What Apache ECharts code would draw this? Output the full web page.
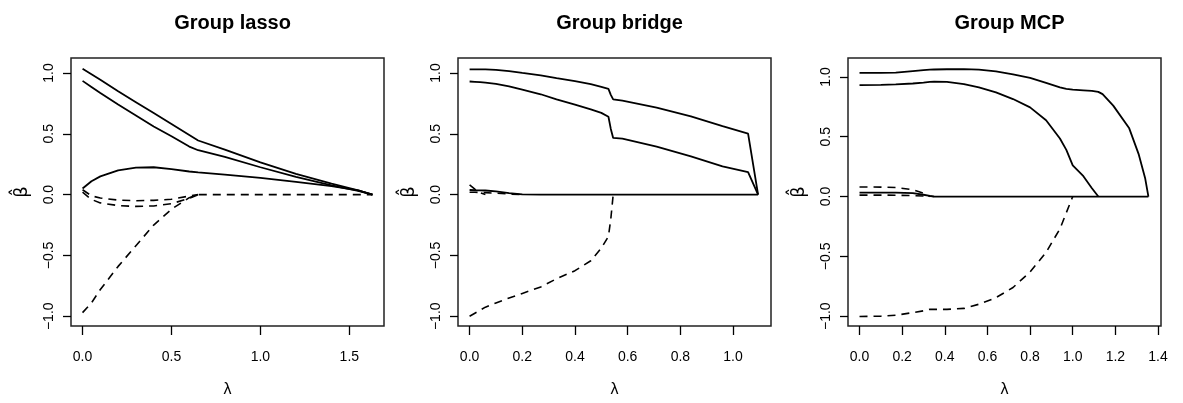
<!DOCTYPE html>
<html>
<head>
<meta charset="utf-8">
<script src="https://cdn.jsdelivr.net/npm/echarts@6/dist/echarts.min.js"></script>
<style>
  html, body { margin: 0; padding: 0; background: #fff; }
  #main { width: 1183px; height: 403px; }
</style>
</head>
<body>
<div id="main"></div>
<script>
// Group lasso: lambda grid and coefficient paths (b1-b3 solid, b4-b6 dashed)
const lassoLam = [0, 0.05, 0.1, 0.2, 0.3, 0.4, 0.5, 0.6, 0.65, 0.8, 1.0, 1.2, 1.4, 1.55, 1.63];
const lassoB1 = [1.035, 0.99, 0.945, 0.85, 0.76, 0.67, 0.58, 0.49, 0.445, 0.37, 0.265, 0.17, 0.09, 0.035, 0];
const lassoB2 = [0.935, 0.885, 0.835, 0.74, 0.65, 0.56, 0.48, 0.395, 0.365, 0.31, 0.225, 0.145, 0.075, 0.03, 0];
const lassoB3 = [0.05, 0.11, 0.15, 0.2, 0.222, 0.225, 0.21, 0.19, 0.183, 0.165, 0.138, 0.105, 0.07, 0.035, 0];
const lassoB4 = [0.04, -0.01, -0.028, -0.045, -0.05, -0.047, -0.038, -0.012, 0];
const lassoB5 = [0.02, -0.04, -0.068, -0.09, -0.097, -0.093, -0.075, -0.03, 0];
const lassoB6 = [-0.97, -0.89, -0.78, -0.59, -0.42, -0.25, -0.12, -0.025, 0, 0, 0, 0, 0, 0, 0];

// Group bridge
const bridgeLam = [0, 0.02, 0.04, 0.06, 0.1, 0.15, 0.2, 0.27, 0.33, 0.4, 0.46, 0.5, 0.527, 0.536, 0.545, 0.58, 0.71, 0.84, 0.96, 1.057, 1.095];
const bridgeB1 = [1.03, 1.03, 1.03, 1.03, 1.025, 1.015, 1.0, 0.98, 0.957, 0.932, 0.908, 0.885, 0.869, 0.82, 0.783, 0.772, 0.716, 0.643, 0.563, 0.501, 0];
const bridgeB2 = [0.93, 0.927, 0.924, 0.92, 0.91, 0.89, 0.863, 0.825, 0.783, 0.74, 0.7, 0.672, 0.64, 0.54, 0.466, 0.46, 0.394, 0.314, 0.233, 0.185, 0];
const bridgeB3 = [0.038, 0.036, 0.035, 0.034, 0.027, 0.013, 0.002, 0, 0, 0, 0, 0, 0, 0, 0, 0, 0, 0, 0, 0, 0];
const bridgeB4 = [0.08, 0.045, 0.015, 0];
const bridgeB5 = [0.02, 0.019, 0.018, 0.016, 0.012, 0.005, 0];
const bridgeB6 = [-1.0, -0.975, -0.95, -0.925, -0.89, -0.85, -0.812, -0.759, -0.692, -0.625, -0.544, -0.44, -0.343, -0.2, 0];

// Group MCP
const mcpLam = [0, 0.1, 0.17, 0.25, 0.3, 0.33, 0.35, 0.41, 0.49, 0.56, 0.64, 0.72, 0.8, 0.875, 0.94, 0.97, 1.0, 1.05, 1.09, 1.12, 1.14, 1.19, 1.265, 1.31, 1.34, 1.355];
const mcpB1 = [1.033, 1.033, 1.035, 1.048, 1.056, 1.06, 1.062, 1.064, 1.065, 1.06, 1.046, 1.022, 0.992, 0.95, 0.912, 0.9, 0.893, 0.888, 0.884, 0.875, 0.856, 0.76, 0.57, 0.35, 0.15, 0];
const mcpB2 = [0.932, 0.933, 0.937, 0.945, 0.953, 0.958, 0.96, 0.958, 0.94, 0.912, 0.87, 0.815, 0.745, 0.638, 0.485, 0.39, 0.26, 0.17, 0.07, 0];
const mcpB3 = [0.033, 0.033, 0.033, 0.028, 0.015, 0.005, 0, 0, 0, 0, 0, 0, 0, 0, 0, 0, 0, 0, 0, 0, 0, 0, 0, 0, 0, 0];
const mcpB4 = [0.08, 0.079, 0.076, 0.058, 0.028, 0];
const mcpB5 = [0.012, 0.012, 0.011, 0.008, 0.004, 0.002, 0];
const mcpB6 = [-1.003, -1.0, -0.992, -0.97, -0.955, -0.943, -0.943, -0.943, -0.935, -0.9, -0.845, -0.76, -0.63, -0.466, -0.27, -0.135, 0];

const yTicks = [-1, -0.5, 0, 0.5, 1];

const panels = [
  { title: 'Group lasso', lam: lassoLam, solid: [lassoB1, lassoB2, lassoB3], dashed: [lassoB4, lassoB5, lassoB6],
    left: 71, xMin: -0.065, xMax: 1.695, xTicks: [0, 0.5, 1, 1.5], yMin: -1.08, yMax: 1.123 },
  { title: 'Group bridge', lam: bridgeLam, solid: [bridgeB1, bridgeB2, bridgeB3], dashed: [bridgeB4, bridgeB5, bridgeB6],
    left: 458, xMin: -0.044, xMax: 1.144, xTicks: [0, 0.2, 0.4, 0.6, 0.8, 1.0], yMin: -1.08, yMax: 1.123 },
  { title: 'Group MCP', lam: mcpLam, solid: [mcpB1, mcpB2, mcpB3], dashed: [mcpB4, mcpB5, mcpB6],
    left: 848, xMin: -0.054, xMax: 1.414, xTicks: [0, 0.2, 0.4, 0.6, 0.8, 1.0, 1.2, 1.4], yMin: -1.082, yMax: 1.158 }
];

const W = 313, H = 274, TOP = 58;
const fmt = v => v.toFixed(1).replace('-', '\u2212');

let option = {
  animation: false,
  backgroundColor: '#fff',
  title: [], grid: [], xAxis: [], yAxis: [], series: []
};

panels.forEach((p, k) => {
  option.title.push({
    text: p.title, left: p.left + W / 2, top: 8, textAlign: 'center',
    textStyle: { fontFamily: 'Liberation Sans', fontWeight: 'bold', fontSize: 20, color: '#000' }
  });
  option.grid.push({
    left: p.left, top: TOP, width: W, height: H,
    show: true, borderColor: '#222', borderWidth: 1.5, backgroundColor: 'transparent'
  });
  option.xAxis.push({
    type: 'value', gridIndex: k, min: p.xMin, max: p.xMax,
    name: 'λ', nameLocation: 'middle', nameGap: 56,
    nameTextStyle: { fontFamily: 'Liberation Sans', fontSize: 16, color: '#000' },
    splitLine: { show: false },
    axisLine: { show: false, onZero: false },
    axisTick: { show: true, inside: false, length: 9, customValues: p.xTicks, lineStyle: { color: '#000', width: 1.3 } },
    axisLabel: { customValues: p.xTicks, formatter: fmt, margin: 24, fontFamily: 'Liberation Sans', fontSize: 14, color: '#000' }
  });
  option.yAxis.push({
    type: 'value', gridIndex: k, min: p.yMin, max: p.yMax,
    name: 'β\u0302', nameLocation: 'middle', nameGap: 40, nameRotate: 90,
    nameTextStyle: { fontFamily: 'DejaVu Sans', fontSize: 18, color: '#000' },
    splitLine: { show: false },
    axisLine: { show: false, onZero: false },
    axisTick: { show: true, inside: false, length: 8, customValues: yTicks, lineStyle: { color: '#000', width: 1.3 } },
    axisLabel: { customValues: yTicks, formatter: fmt, rotate: 90, margin: 15, fontFamily: 'Liberation Sans', fontSize: 14, color: '#000' }
  });
  const addLine = (ys, dashed) => {
    option.series.push({
      type: 'line', xAxisIndex: k, yAxisIndex: k,
      data: ys.map((y, i) => [p.lam[i], y]),
      showSymbol: false, symbol: 'none', silent: true,
      lineStyle: { color: '#000', width: dashed ? 1.6 : 1.8, type: dashed ? [8, 6] : 'solid' }
    });
  };
  p.dashed.forEach(ys => addLine(ys, true));
  p.solid.forEach(ys => addLine(ys, false));
});

const chart = echarts.init(document.getElementById('main'));
chart.setOption(option);
window.onresize = () => { chart.resize(); };
</script>
</body>
</html>
